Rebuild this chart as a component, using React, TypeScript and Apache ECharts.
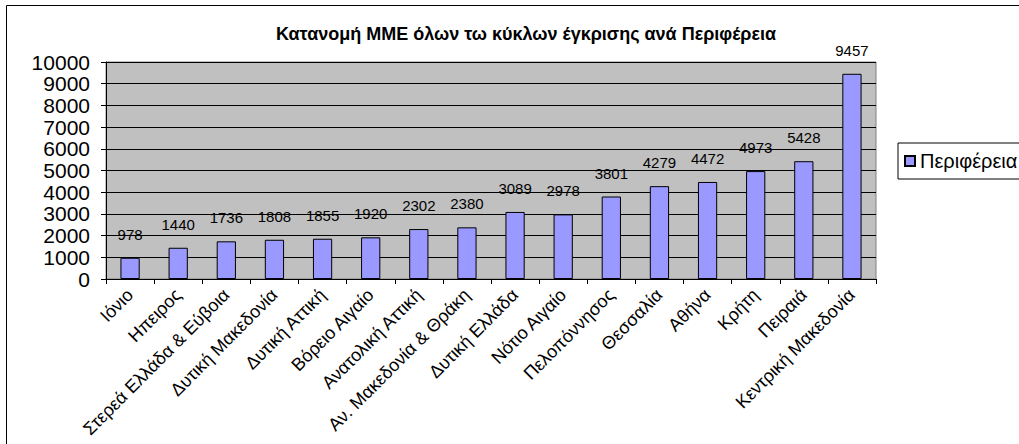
import React, { useEffect, useRef } from "react";
import * as echarts from "echarts";

const chartTitle = "Κατανομή ΜΜΕ όλων τω κύκλων έγκρισης ανά Περιφέρεια";
const seriesName = "Περιφέρεια";
const categories = [
  "Ιόνιο",
  "Ηπειρος",
  "Στερεά Ελλάδα & Εύβοια",
  "Δυτική Μακεδονία",
  "Δυτική Αττική",
  "Βόρειο Αιγαίο",
  "Ανατολική Αττική",
  "Αν. Μακεδονία & Θράκη",
  "Δυτική Ελλάδα",
  "Νότιο Αιγαίο",
  "Πελοπόννησος",
  "Θεσσαλία",
  "Αθήνα",
  "Κρήτη",
  "Πειραιά",
  "Κεντρική Μακεδονία",
];
const values = [978, 1440, 1736, 1808, 1855, 1920, 2302, 2380, 3089, 2978, 3801, 4279, 4472, 4973, 5428, 9457];

const FONT = "'Liberation Sans', Arial, sans-serif";

export default function App() {
  const ref = useRef<HTMLDivElement>(null);
  useEffect(() => {
    if (!ref.current) return;
    const chart = echarts.init(ref.current, null, { renderer: "svg" });
    chart.setOption({
      animation: false,
      backgroundColor: "#ffffff",
      textStyle: { fontFamily: FONT },
      title: {
        text: chartTitle,
        left: 521,
        top: 20,
        textAlign: "center",
        textStyle: { fontFamily: FONT, fontSize: 18, fontWeight: "bold", color: "#000" },
      },
      graphic: [
        {
          type: "rect",
          shape: { x: 6.5, y: 5.5, width: 1100, height: 500 },
          style: { fill: "none", stroke: "#000", lineWidth: 1 },
          silent: true,
        },
      ],
      legend: {
        left: 898,
        top: 143,
        orient: "vertical",
        borderColor: "#000",
        borderWidth: 1,
        padding: [8, 6, 8, 6],
        itemWidth: 10,
        itemHeight: 10,
        itemGap: 4,
        icon: "rect",
        textStyle: { fontFamily: FONT, fontSize: 20, color: "#000" },
        data: [seriesName],
      },
      grid: {
        left: 106,
        top: 62,
        right: 143,
        bottom: 165,
        show: true,
        backgroundColor: "#C0C0C0",
        borderColor: "#808080",
        borderWidth: 1,
        containLabel: false,
      },
      xAxis: {
        type: "category",
        data: categories,
        boundaryGap: true,
        axisLine: { show: true, lineStyle: { color: "#000", width: 1 } },
        axisTick: { show: true, alignWithLabel: false, length: 5, lineStyle: { color: "#000" } },
        axisLabel: {
          interval: 0,
          rotate: 45,
          margin: 13,
          fontFamily: FONT,
          fontSize: 18,
          color: "#000",
        },
      },
      yAxis: {
        type: "value",
        min: 0,
        max: 10000,
        interval: 1000,
        axisLine: { show: true, lineStyle: { color: "#000", width: 1 } },
        axisTick: { show: true, length: 5, lineStyle: { color: "#000" } },
        axisLabel: {
          fontFamily: FONT,
          fontSize: 21,
          color: "#000",
          margin: 16,
          formatter: (v: number) => String(v),
        },
        splitLine: { show: true, lineStyle: { color: "#000", width: 1 } },
      },
      series: [
        {
          name: seriesName,
          type: "bar",
          data: values,
          barWidth: "40%",
          itemStyle: { color: "#9999FF", borderColor: "#000", borderWidth: 1 },
          label: {
            show: true,
            position: "top",
            distance: 16,
            fontFamily: FONT,
            fontSize: 15,
            color: "#000",
          },
        },
      ],
    });
    return () => chart.dispose();
  }, []);
  return <div ref={ref} style={{ position: "fixed", left: 0, top: 0, width: 1019, height: 444 }} />;
}
